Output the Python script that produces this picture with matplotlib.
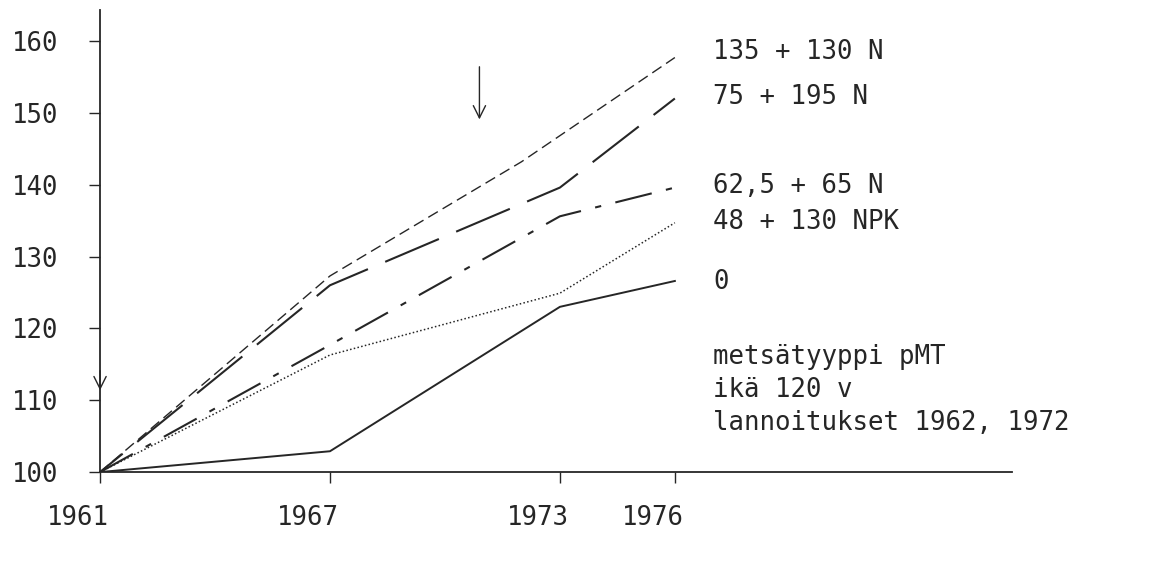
import matplotlib
matplotlib.use("Agg")
import matplotlib.pyplot as plt
from matplotlib.transforms import ScaledTranslation

# values (index, 1961 = 100)
years = [1961, 1967, 1973, 1976]
years_top = [1961, 1967, 1972, 1976]   # top line bends a bit before 1973
s_135_130n = [100, 127.3, 143.2, 157.7]
s_75_195n = [100, 126.0, 139.6, 152.0]
s_625_65n = [100, 117.7, 135.6, 139.6]
s_48_130npk = [100, 116.3, 124.9, 134.7]
s_0 = [100, 102.9, 123.0, 126.6]

labels = ["135 + 130 N", "75 + 195 N", "62,5 + 65 N", "48 + 130 NPK", "0"]
label_y = [158.5, 152.2, 139.8, 134.8, 126.5]
note = "metsätyyppi pMT\nikä 120 v\nlannoitukset 1962, 1972"

xticks = [1961, 1967, 1973, 1976]
yticks = [100, 110, 120, 130, 140, 150, 160]

ink = "#262626"
plt.rcParams['font.family'] = ['DejaVu Sans Mono', 'DejaVu Sans']

fig = plt.figure(figsize=(11.58, 5.62), dpi=100)
ax = fig.add_axes([0.0864, 0.160, 0.7876, 0.822])

ax.plot(years_top, s_135_130n, color=ink, lw=1.0, linestyle=(0, (8, 4)))
ax.plot(years, s_75_195n, color=ink, lw=1.5, linestyle=(14, (28, 9)))
ax.plot(years, s_625_65n, color=ink, lw=1.5, linestyle=(0, (18, 7, 3, 7)))
ax.plot(years, s_48_130npk, color=ink, lw=1.1, linestyle=(0, (1, 1.5)))
ax.plot(years, s_0, color=ink, lw=1.4)

for lab, yv in zip(labels, label_y):
    ax.text(1977.0, yv, lab, fontsize=18.5, color=ink, va='center', ha='left')
ax.text(1977.0, 111.4, note, fontsize=18.5, color=ink, va='center', ha='left',
        linespacing=1.35)

# fertilisation arrows
ax.annotate("", xy=(1961, 111.0), xytext=(1961, 114.5),
            arrowprops=dict(arrowstyle='->', color=ink, lw=1.0,
                            mutation_scale=22))
ax.annotate("", xy=(1970.9, 148.7), xytext=(1970.9, 156.8),
            arrowprops=dict(arrowstyle='->', color=ink, lw=1.0,
                            mutation_scale=22))

ax.set_xlim(1961, 1984.8)
ax.set_ylim(100, 164.3)
ax.set_xticks(xticks)
ax.set_yticks(yticks)
ax.spines['top'].set_visible(False)
ax.spines['right'].set_visible(False)
for sp in ['left', 'bottom']:
    ax.spines[sp].set_color(ink)
    ax.spines[sp].set_linewidth(1.3)
ax.tick_params(axis='both', colors=ink, labelsize=18.5, length=8, width=1.0)
ax.tick_params(axis='y', pad=22)
ax.tick_params(axis='x', pad=16)
offset = ScaledTranslation(-16 / 72, 0, fig.dpi_scale_trans)
for t in ax.get_xticklabels():
    t.set_transform(t.get_transform() + offset)

fig.savefig("out.png", dpi=100, facecolor='white')
